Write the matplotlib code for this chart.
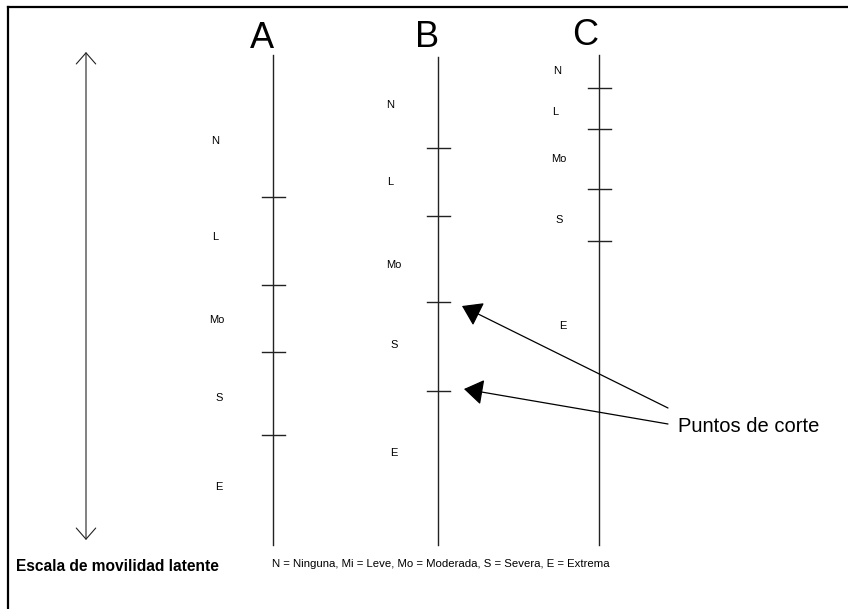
import matplotlib.pyplot as plt

plt.rcParams['font.family'] = ['Liberation Sans', 'DejaVu Sans']

# scales (positions read in picture pixels, y downward)
scale_names = ["A", "B", "C"]
scale_x = [273, 438, 599]
name_pos = [(262, 48), (427, 47), (585, 45)]
cut_points = [
    [197, 285, 352, 435],
    [148, 216, 302, 391],
    [88, 129, 189, 241],
]
level_names = ["N", "L", "Mo", "S", "E"]
level_x = [
    [215, 215, 217, 219, 219],
    [390, 390, 394, 394, 394],
    [557, 555, 559, 559, 563],
]
level_y = [
    [140, 236, 319, 397, 486],
    [104, 181, 264, 344, 452],
    [70, 111, 158, 219, 325],
]
line_top = [55, 57, 55]
line_bottom = 545

fig = plt.figure(figsize=(8.48, 6.09), dpi=100)
ax = fig.add_axes([0, 0, 1, 1])
ax.set_xlim(0, 848)
ax.set_ylim(609, 0)
ax.axis("off")

lc = "#222222"

# frame (left and top only)
ax.plot([8, 8], [7, 609], color="black", lw=1.6)
ax.plot([8, 848], [7, 7], color="black", lw=1.6)

for i, name in enumerate(scale_names):
    x = scale_x[i]
    ax.plot([x, x], [line_top[i], line_bottom], color=lc, lw=1.0)
    ax.text(name_pos[i][0], name_pos[i][1], name, fontsize=26, ha="center", va="baseline")
    for y in cut_points[i]:
        ax.plot([x - 11, x + 12], [y, y], color=lc, lw=1.0)
    for lab, lx, ly in zip(level_names, level_x[i], level_y[i]):
        ax.text(lx, ly, lab, fontsize=8, ha="center", va="center_baseline")

# left double arrow
ax.annotate("", xy=(86, 52), xytext=(86, 540),
            arrowprops=dict(arrowstyle="<->,head_length=0.4,head_width=0.35",
                            mutation_scale=20, lw=0.8, color=lc, shrinkA=0, shrinkB=0))

# cut-point pointers
ax.annotate("", xy=(462, 306), xytext=(668, 408),
            arrowprops=dict(arrowstyle="-|>,head_length=0.6,head_width=0.4",
                            mutation_scale=20, lw=0.9, color="black", shrinkA=0, shrinkB=0))
ax.annotate("", xy=(464, 389), xytext=(668, 424),
            arrowprops=dict(arrowstyle="-|>,head_length=0.6,head_width=0.4",
                            mutation_scale=20, lw=0.9, color="black", shrinkA=0, shrinkB=0))
ax.text(678, 424, "Puntos de corte", fontsize=14.5, ha="left", va="center_baseline")

ax.text(16, 565, "Escala de movilidad latente", fontsize=11.2, fontweight="bold",
        ha="left", va="center_baseline")
ax.text(272, 563, "N = Ninguna, Mi = Leve, Mo = Moderada, S = Severa, E = Extrema",
        fontsize=8.2, ha="left", va="center_baseline")

fig.savefig("out.png", dpi=100)
